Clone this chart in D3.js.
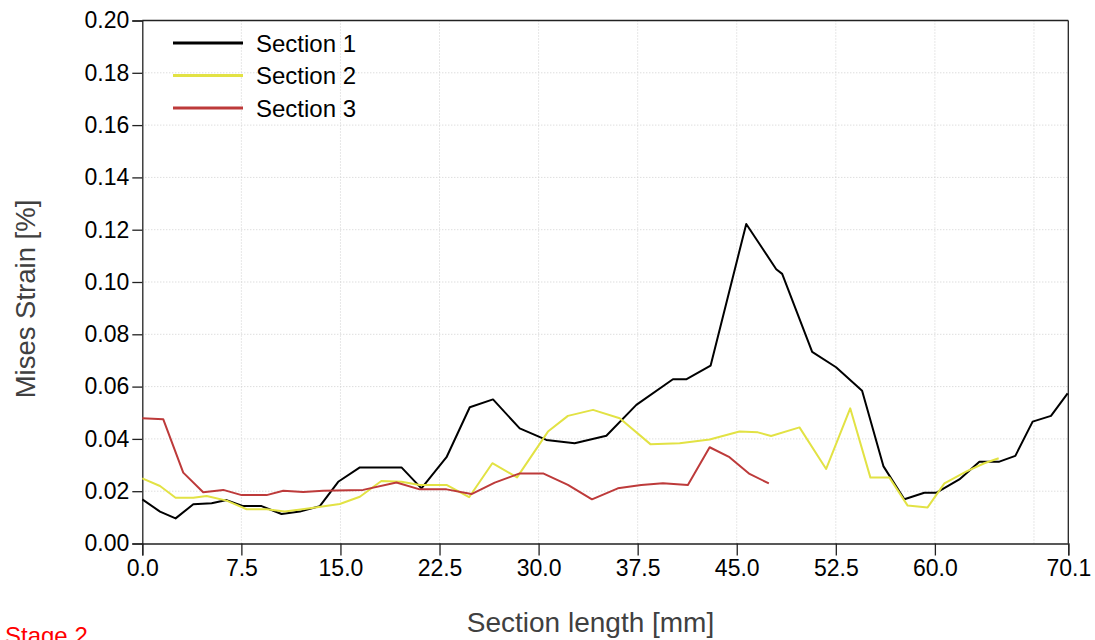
<!DOCTYPE html>
<html><head><meta charset="utf-8">
<script src="https://cdn.jsdelivr.net/npm/d3@7"></script>
<style>body{margin:0;background:#fff}svg{display:block}text{font-family:"Liberation Sans",Arial,sans-serif}</style>
</head><body><svg id="c" width="1095" height="640"></svg>
<script>
const seriesNames = ["Section 1","Section 2","Section 3"];
const seriesColors = ["#000000","#e2e244","#bd3a3a"];
const s1X = [0,1.34,2.52,3.86,5.25,6.38,7.64,9.03,10.54,11.93,13.44,14.83,16.47,19.62,21.13,23.03,24.79,26.55,28.57,30.59,32.73,35.13,37.4,40.17,41.17,43.02,45.72,47.99,48.44,50.71,52.52,54.49,56.1,57.69,59.2,60.09,61.85,63.37,64.88,66.09,67.4,68.79,70.05];
const s1Y = [0.0169,0.0122,0.0096,0.015,0.0154,0.0166,0.0143,0.0143,0.0113,0.0122,0.0143,0.0236,0.0291,0.0291,0.0211,0.033,0.0521,0.0551,0.044,0.0396,0.0383,0.0412,0.053,0.0628,0.0628,0.068,0.1222,0.1049,0.1031,0.0733,0.0674,0.0584,0.0296,0.0169,0.0194,0.0194,0.0245,0.0313,0.0313,0.0335,0.0466,0.0488,0.0574];
const s2X = [0,1.34,2.52,3.86,4.87,6.38,7.9,9.41,10.79,12.69,14.95,16.47,18.1,19.62,21.0,23.03,24.74,26.5,28.37,30.71,32.22,34.12,36.14,38.46,40.68,42.95,45.21,46.6,47.6,49.75,51.77,53.59,55.12,56.56,57.94,59.45,60.72,62.36,63.74,64.83];
const s2Y = [0.0249,0.022,0.0175,0.0175,0.0182,0.0164,0.0131,0.0131,0.0122,0.0135,0.0151,0.0179,0.0239,0.0236,0.0224,0.0224,0.0177,0.0307,0.0253,0.0428,0.0488,0.0511,0.0479,0.038,0.0383,0.0398,0.0428,0.0425,0.0411,0.0444,0.0285,0.0517,0.0252,0.0252,0.0145,0.0138,0.023,0.0275,0.0307,0.0326];
const s3X = [0,1.59,3.1,4.61,6.13,7.52,9.41,10.67,12.18,13.69,16.72,19.24,21.0,23.03,24.92,26.68,28.57,30.34,32.22,34.04,36.0,37.77,39.41,41.3,42.95,44.45,45.97,47.43];
const s3Y = [0.0479,0.0475,0.0271,0.0196,0.0205,0.0185,0.0185,0.0202,0.0197,0.0202,0.0205,0.0233,0.0207,0.0207,0.0189,0.0233,0.0268,0.0268,0.0224,0.0169,0.0211,0.0224,0.023,0.0224,0.0368,0.033,0.0266,0.023];
const xTicks = [0,7.5,15,22.5,30,37.5,45,52.5,60,70.1];
const xGrid = [7.5,15,22.5,30,37.5,45,52.5,60,67.5];
const yTicks = [0,0.02,0.04,0.06,0.08,0.10,0.12,0.14,0.16,0.18,0.20];

const svg = d3.select("#c");
const L=142.3, R=1068.3, T=20.5, B=543.5;
const x = d3.scaleLinear().domain([0,70.1]).range([L,R]);
const y = d3.scaleLinear().domain([0,0.2]).range([B,T]);

// grid
const g = svg.append("g");
g.selectAll("line.gx").data(xGrid).join("line")
  .attr("x1",d=>x(d)).attr("x2",d=>x(d)).attr("y1",T).attr("y2",B)
  .attr("stroke","#cfcfcf").attr("stroke-width",1).attr("stroke-dasharray","1,2");
g.selectAll("line.gy").data(yTicks.slice(1,-1)).join("line")
  .attr("x1",L).attr("x2",R).attr("y1",d=>y(d)).attr("y2",d=>y(d))
  .attr("stroke","#cfcfcf").attr("stroke-width",1).attr("stroke-dasharray","1,2");

// axes
const xAxis = d3.axisBottom(x).tickValues(xTicks).tickFormat(d3.format(".1f")).tickSizeOuter(0).tickSize(12).tickPadding(4);
const yAxis = d3.axisLeft(y).tickValues(yTicks).tickFormat(d3.format(".2f")).tickSizeOuter(0).tickSize(10).tickPadding(3);
const gx = svg.append("g").attr("transform",`translate(0,${B})`).call(xAxis);
const gy = svg.append("g").attr("transform",`translate(${L},0)`).call(yAxis);
[gx,gy].forEach(a=>{a.selectAll("text").attr("font-size",23).attr("fill","#000").attr("font-family","Liberation Sans, Arial");
 a.selectAll("line").attr("stroke","#222").attr("stroke-width",1.3);
 a.select(".domain").attr("stroke","#222").attr("stroke-width",1.3);});
// frame top/right
svg.append("line").attr("x1",L).attr("x2",R).attr("y1",T).attr("y2",T).attr("stroke","#222").attr("stroke-width",1.3);
svg.append("line").attr("x1",R).attr("x2",R).attr("y1",T).attr("y2",B).attr("stroke","#222").attr("stroke-width",1.3);

// lines
const allX=[s1X,s2X,s3X], allY=[s1Y,s2Y,s3Y];
const line = d3.line().x(d=>x(d[0])).y(d=>y(d[1]));
allX.forEach((xs,i)=>{
  const pts = xs.map((v,j)=>[v,allY[i][j]]);
  svg.append("path").datum(pts).attr("d",line).attr("fill","none")
    .attr("stroke",seriesColors[i]).attr("stroke-width",2).attr("stroke-linejoin","round");
});

// legend
const lg = svg.append("g");
seriesNames.forEach((n,i)=>{
  const yy = 43 + i*32.5;
  lg.append("line").attr("x1",173).attr("x2",243).attr("y1",yy).attr("y2",yy)
    .attr("stroke",seriesColors[i]).attr("stroke-width",3);
  lg.append("text").attr("x",256).attr("y",yy+8.5).attr("font-size",24).attr("fill","#000").text(n);
});

// titles
svg.append("text").attr("x",590.5).attr("y",632).attr("text-anchor","middle").attr("font-size",28).attr("fill","#404040").text("Section length [mm]");
svg.append("text").attr("transform","translate(35,299) rotate(-90)").attr("text-anchor","middle").attr("font-size",27.5).attr("fill","#404040").text("Mises Strain [%]");
svg.append("text").attr("x",5).attr("y",644).attr("font-size",24).attr("fill","#ff0000").text("Stage 2");
</script></body></html>
